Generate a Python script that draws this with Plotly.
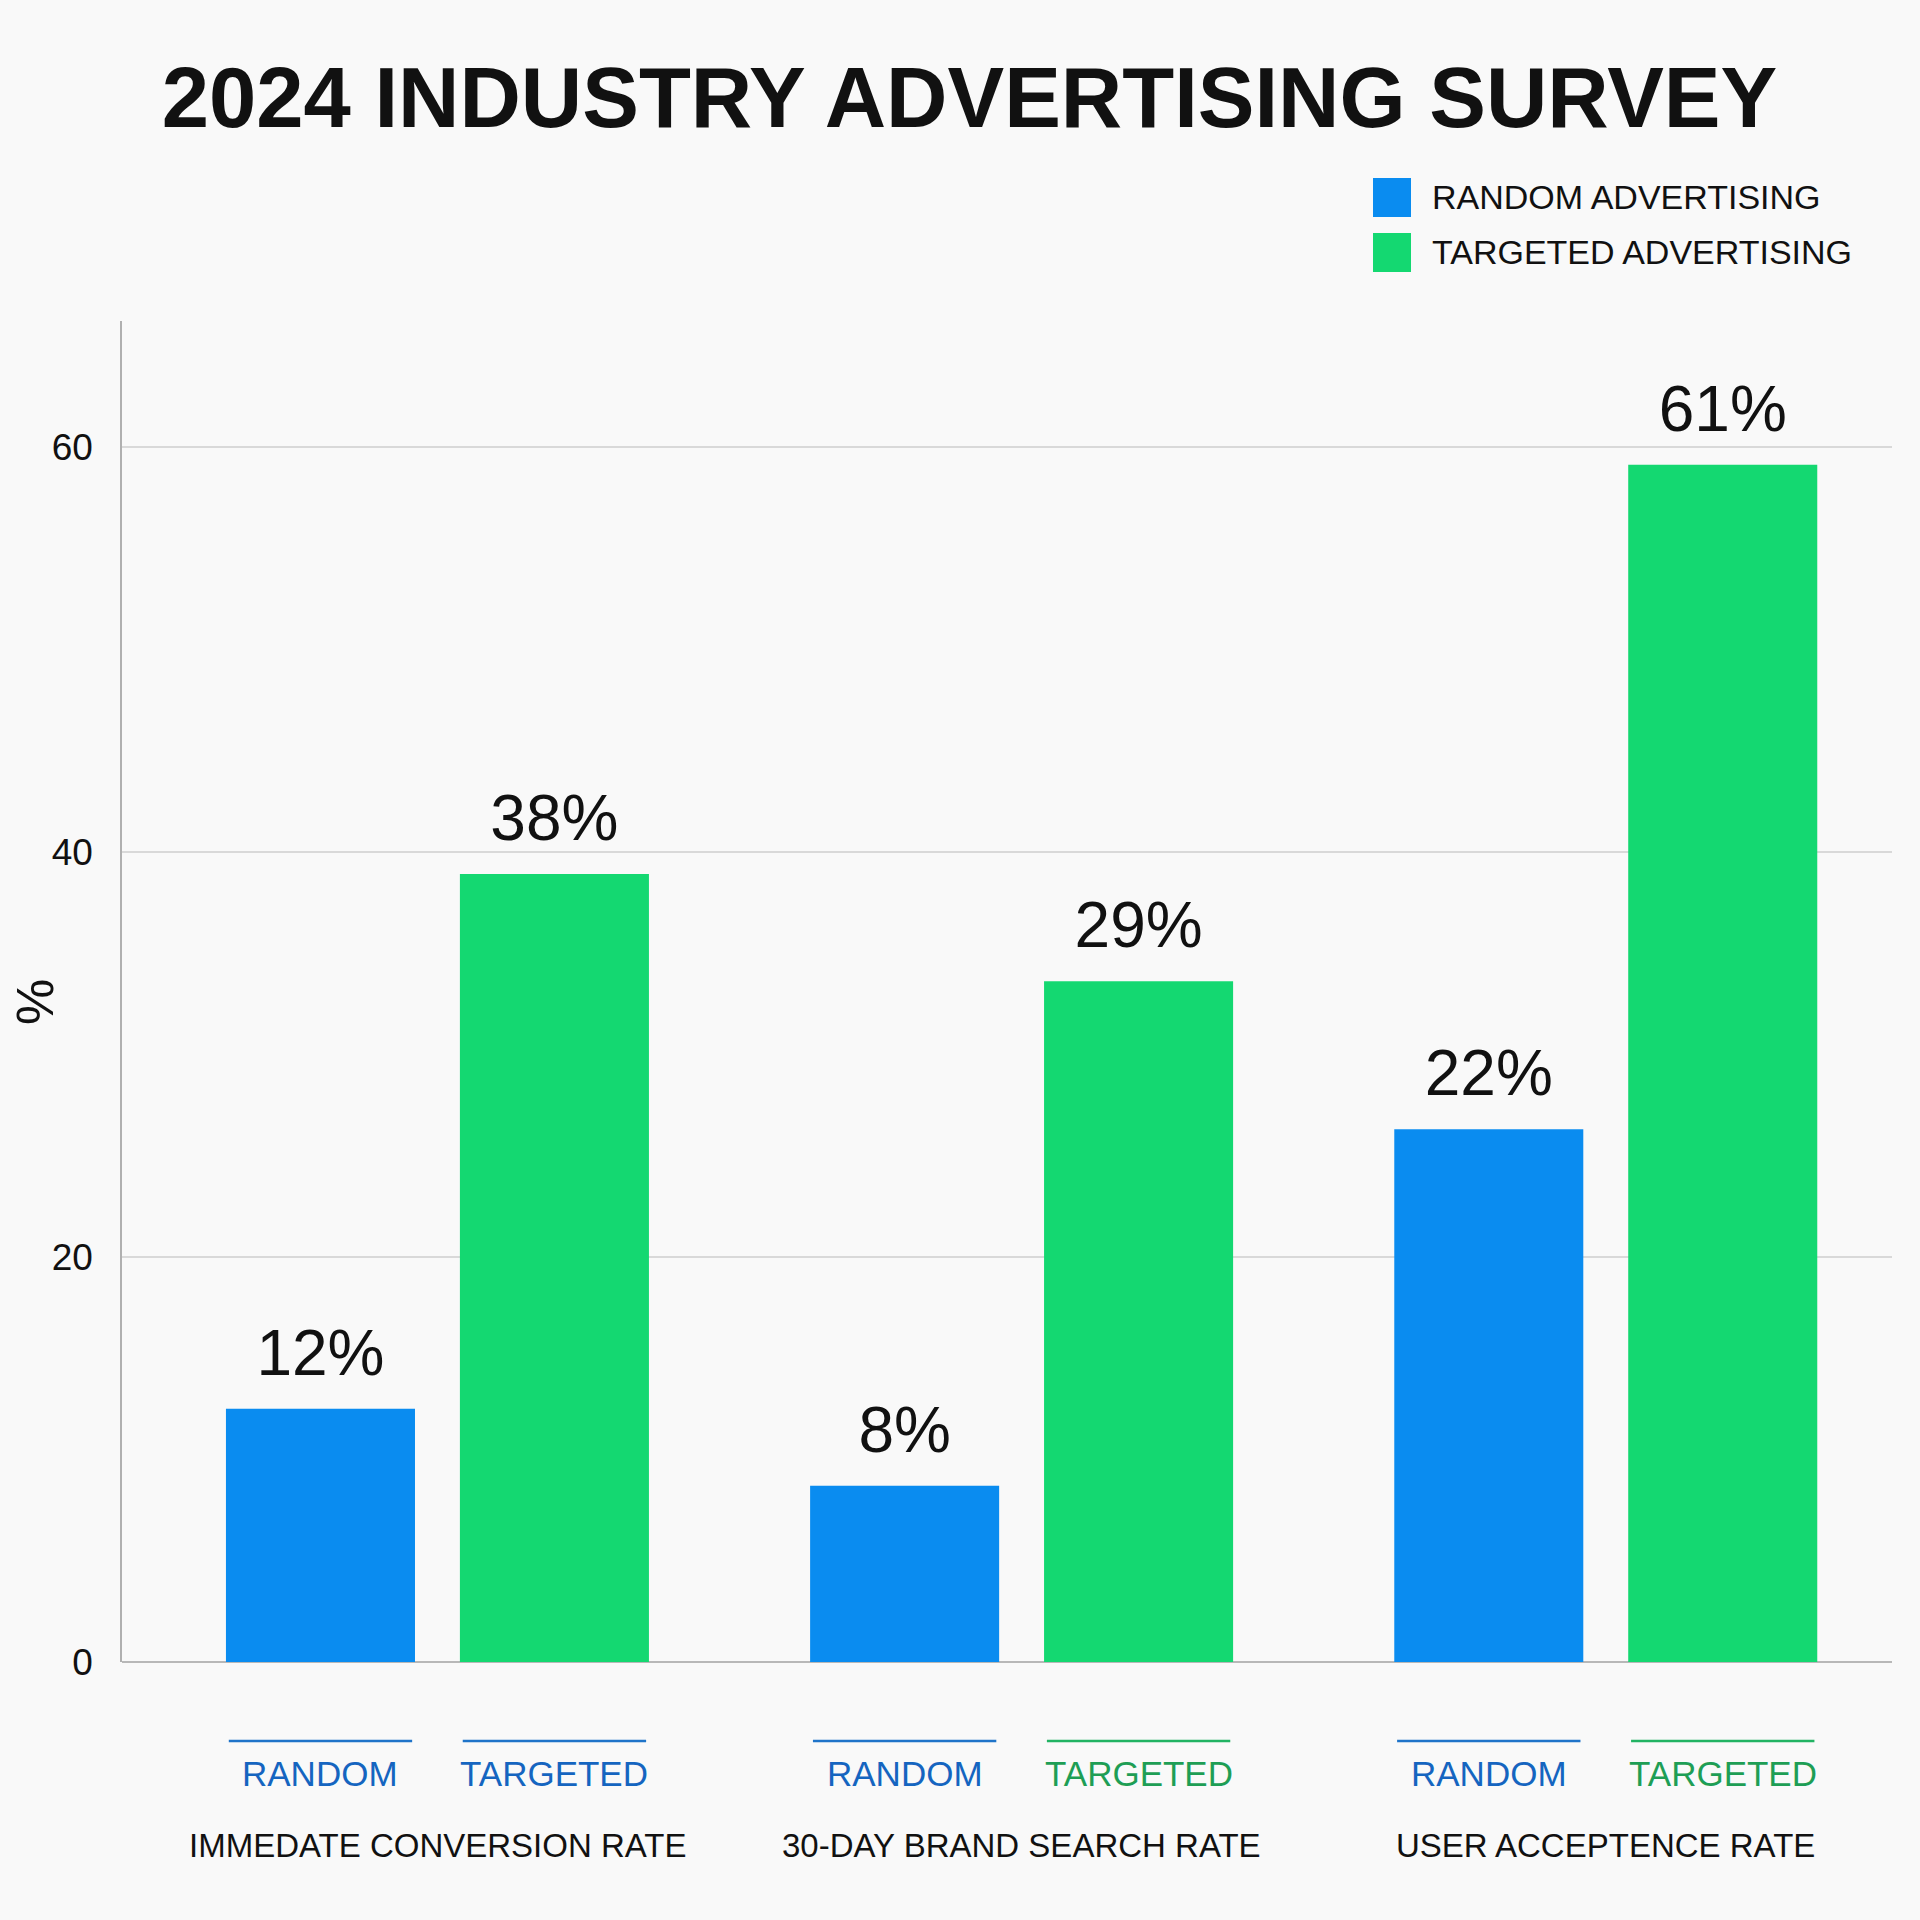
import plotly.graph_objects as go

# ---------------- data ----------------
groups = ["IMMEDATE CONVERSION RATE", "30-DAY BRAND SEARCH RATE", "USER ACCEPTENCE RATE"]
random_values = [12.5, 8.7, 26.3]
targeted_values = [38.9, 33.6, 59.1]
random_labels = ["12%", "8%", "22%"]
targeted_labels = ["38%", "29%", "61%"]
series_names = ["RANDOM ADVERTISING", "TARGETED ADVERTISING"]
sub_labels = ["RANDOM", "TARGETED"]
y_ticks = [0, 20, 40, 60]
title_text = "2024 INDUSTRY ADVERTISING SURVEY"
y_title = "%"

# ---------------- style ----------------
FONT = "Liberation Sans"
BLUE = "#0a8cf0"
GREEN = "#14d871"
LBL_BLUE = "#1565c0"
LBL_GREEN = "#1e9e55"
LINE_BLUE = "#1f74c9"
LINE_GREEN = "#22b363"
BG = "#f9f9f9"
BARGAP = 0.199
BARGROUPGAP = 0.192
# colours of the sub-labels under each bar (group 1 'TARGETED' is blue in the source)
sub_label_colors = [[LBL_BLUE, LBL_BLUE], [LBL_BLUE, LBL_GREEN], [LBL_BLUE, LBL_GREEN]]
sub_line_colors = [[LINE_BLUE, LINE_BLUE], [LINE_BLUE, LINE_GREEN], [LINE_BLUE, LINE_GREEN]]

L, R, T, B = 122, 28, 321, 258
W = H = 1920
PW = W - L - R
PH = H - T - B


def py(pix):
    """pixel row -> paper y"""
    return (H - B - pix) / PH


def px(pix):
    """pixel column -> paper x"""
    return (pix - L) / PW


fig = go.Figure()
fig.add_trace(go.Bar(x=groups, y=random_values, name=series_names[0],
                     marker=dict(color=BLUE, line=dict(width=0)), showlegend=False,
                     hoverinfo="skip"))
fig.add_trace(go.Bar(x=groups, y=targeted_values, name=series_names[1],
                     marker=dict(color=GREEN, line=dict(width=0)), showlegend=False,
                     hoverinfo="skip"))

# value labels (grouped scatter text so they sit over the matching bar)
for vals, labs in ((random_values, random_labels), (targeted_values, targeted_labels)):
    fig.add_trace(go.Scatter(x=groups, y=vals, text=labs, mode="markers+text",
                             orientation="v",
                             marker=dict(size=27, color="rgba(0,0,0,0)"),
                             textposition="top center",
                             textfont=dict(family=FONT, size=64, color="#111111"),
                             cliponaxis=False, showlegend=False, hoverinfo="skip"))

annotations = []
shapes = []
off = (1 - BARGAP) / 4
bar_w = (1 - BARGAP) / 2 * (1 - BARGROUPGAP)
for i, g in enumerate(groups):
    for j, s in enumerate((-1, 1)):
        cx = i + s * off
        shapes.append(dict(type="line", xref="x", yref="paper",
                           x0=cx - bar_w * 0.485, x1=cx + bar_w * 0.485,
                           y0=py(1741), y1=py(1741),
                           line=dict(color=sub_line_colors[i][j], width=2.5)))
        annotations.append(dict(x=cx, y=py(1773), xref="x", yref="paper",
                                text=sub_labels[j], showarrow=False,
                                xanchor="center", yanchor="middle",
                                font=dict(family=FONT, size=35, color=sub_label_colors[i][j])))
    annotations.append(dict(x=i, y=py(1845), xref="x", yref="paper", text=g,
                            showarrow=False, xanchor="center", yanchor="middle",
                            font=dict(family=FONT, size=33, color="#111111")))

# y axis title
annotations.append(dict(x=px(35), y=py(1002), xref="paper", yref="paper", text=y_title,
                        textangle=-90, showarrow=False, xanchor="center", yanchor="middle",
                        font=dict(family=FONT, size=52, color="#111111")))

# custom legend (large square swatches)
legend_rows = [(178, 217, 197, BLUE), (233, 272, 252, GREEN)]
for (y0, y1, yc, col), name in zip(legend_rows, series_names):
    shapes.append(dict(type="rect", xref="paper", yref="paper",
                       x0=px(1373), x1=px(1411), y0=py(y1), y1=py(y0),
                       fillcolor=col, line=dict(width=0)))
    annotations.append(dict(x=px(1430), y=py(yc), xref="paper", yref="paper", text=name,
                            showarrow=False, xanchor="left", yanchor="middle",
                            font=dict(family=FONT, size=34, color="#111111")))

fig.update_layout(
    width=W, height=H, autosize=False,
    margin=dict(l=L, r=R, t=T, b=B, pad=0),
    paper_bgcolor=BG, plot_bgcolor=BG,
    barmode="group", bargap=BARGAP, bargroupgap=BARGROUPGAP,
    scattermode="group", scattergap=BARGAP,
    title=dict(text=title_text, x=969.5 / W, y=1 - 97 / H, xref="container", yref="container",
               xanchor="center", yanchor="middle",
               font=dict(family=FONT, size=85, color="#111111", weight="bold")),
    xaxis=dict(type="category", range=[-0.54, 2.49], showticklabels=False,
               showgrid=False, zeroline=False, showline=False, ticks=""),
    yaxis=dict(range=[0, 66.2], tickvals=y_ticks, ticktext=[str(v) for v in y_ticks],
               showgrid=True, gridcolor="#d9d9d9", gridwidth=1.5,
               showline=True, linecolor="#b0b0b0", linewidth=1.5,
               zeroline=True, zerolinecolor="#b8b8b8", zerolinewidth=1.5,
               ticks="", ticklabelstandoff=20,
               tickfont=dict(family=FONT, size=37, color="#111111")),
    shapes=shapes, annotations=annotations,
    showlegend=False,
)

fig.write_html("out.html")
